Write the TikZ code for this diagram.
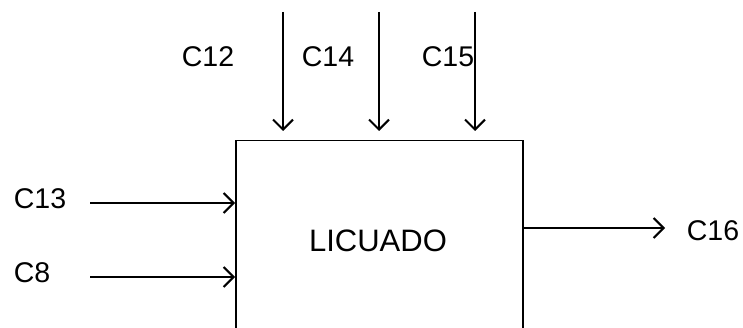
\documentclass[tikz,border=0pt]{standalone}
\usepackage{fontspec}
\setmainfont{Liberation Sans}
\usetikzlibrary{arrows.meta}
\begin{document}
\begin{tikzpicture}[x=1pt,y=-1pt,
  flow/.style={line width=2pt,-{Straight Barb[length=10pt,width=20pt,line width=2pt]}},
  lbl/.style={inner sep=0pt,font=\fontsize{28.5}{32}\selectfont},
  boxstyle/.style={draw,line width=1.5pt,minimum width=287pt,minimum height=200pt,inner sep=0pt}]
\useasboundingbox (0,0) rectangle (743,328);
\begin{scope}
\clip (0,0) rectangle (743,328);
\node[boxstyle,anchor=north west] (box) at (235,140) {};
\end{scope}
\node[lbl,font=\fontsize{31}{34}\selectfont] (lic) at (378,241) {LICUADO};
% top inputs
\coordinate (t1) at (283,12); \coordinate (e1) at (283,131);
\coordinate (t2) at (379,12); \coordinate (e2) at (379,131);
\coordinate (t3) at (475,12); \coordinate (e3) at (475,131);
\draw[flow] (t1) -- (e1);
\draw[flow] (t2) -- (e2);
\draw[flow] (t3) -- (e3);
\node[lbl] (c12) at (208,57) {C12};
\node[lbl] (c14) at (328,57) {C14};
\node[lbl] (c15) at (448,57) {C15};
% left inputs
\coordinate (s13) at (90,203);
\coordinate (s8) at (90,277);
\draw[flow] (s13) -- (box.west |- s13);
\draw[flow] (s8) -- (box.west |- s8);
\node[lbl] (c13) at (40,199) {C13};
\node[lbl] (c8) at (32,273) {C8};
% output
\coordinate (o16) at (665,228);
\draw[flow] (box.east |- o16) -- (o16);
\node[lbl] (c16) at (713,231) {C16};
\end{tikzpicture}
\end{document}
